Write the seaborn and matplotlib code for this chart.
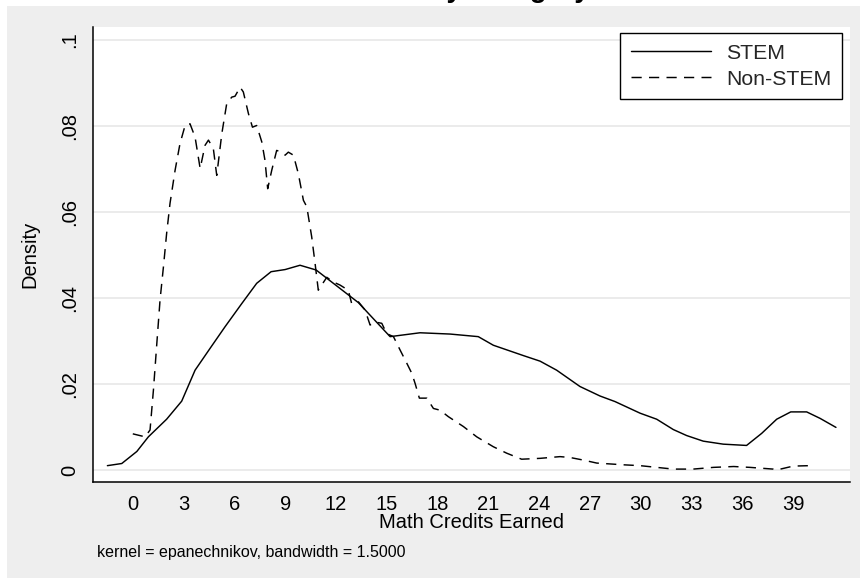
import matplotlib
matplotlib.use("Agg")
import matplotlib.pyplot as plt
from matplotlib.patches import Rectangle
import pandas as pd
import seaborn as sns

# Kernel density estimates of math credits earned, by major group
stem_x = [-1.5, -0.65, 0.24, 0.92, 2.0, 2.89, 3.68, 4.57, 5.45, 6.44,
          7.32, 8.17, 9.0, 9.88, 10.83, 13.33, 15.2, 16.97, 18.75, 20.41,
          21.3, 23.07, 24.06, 25.04, 26.42, 27.6, 28.49, 29.97, 30.95, 31.93,
          32.72, 33.7, 34.88, 36.26, 37.15, 38.04, 38.87, 39.81, 40.6, 41.54]
stem_y = [0.0010, 0.0015, 0.0043, 0.0077, 0.0118, 0.0160, 0.0232, 0.0283, 0.0333, 0.0387,
          0.0434, 0.0461, 0.0466, 0.0476, 0.0465, 0.0389, 0.0310, 0.0319, 0.0316, 0.0310,
          0.0290, 0.0266, 0.0253, 0.0232, 0.0194, 0.0172, 0.0159, 0.0132, 0.0118, 0.0094,
          0.0080, 0.0067, 0.0060, 0.0057, 0.0085, 0.0118, 0.0135, 0.0135, 0.0120, 0.0099]

nonstem_x = [0.0, 0.73, 1.02, 1.22, 1.42, 1.61, 1.81, 2.0, 2.2, 2.5,
             2.79, 3.09, 3.38, 3.68, 3.98, 4.27, 4.47, 4.76, 4.96, 5.26,
             5.55, 5.85, 6.04, 6.34, 6.53, 6.83, 7.07, 7.32, 7.62, 7.81,
             7.97, 8.21, 8.5, 8.8, 9.0, 9.19, 9.49, 9.78, 10.08, 10.28,
             10.57, 10.77, 10.96, 11.46, 11.85, 12.24, 12.73, 12.93, 13.33, 13.72,
             14.02, 14.31, 14.71, 15.0, 15.4, 15.79, 16.19, 16.48, 16.68, 16.93,
             17.37, 17.76, 18.15, 18.64, 19.53, 20.32, 21.3, 22.09, 22.97, 24.06,
             25.24, 25.83, 26.61, 27.41, 28.98, 29.97, 30.95, 31.93, 33.1, 34.3,
             35.5, 36.46, 37.84, 38.04, 39.02, 40.0]
nonstem_y = [0.0084, 0.0077, 0.0093, 0.0186, 0.0294, 0.0395, 0.0472, 0.0550, 0.0620, 0.0697,
             0.0759, 0.0801, 0.0805, 0.0774, 0.0701, 0.0755, 0.0767, 0.0747, 0.0685, 0.0782,
             0.0852, 0.0867, 0.0869, 0.0890, 0.0879, 0.0829, 0.0797, 0.0801, 0.0763, 0.0720,
             0.0654, 0.0697, 0.0743, 0.0739, 0.0732, 0.0739, 0.0732, 0.0689, 0.0627, 0.0612,
             0.0542, 0.0480, 0.0418, 0.0448, 0.0437, 0.0430, 0.0418, 0.0387, 0.0391, 0.0372,
             0.0337, 0.0344, 0.0341, 0.0317, 0.0310, 0.0279, 0.0248, 0.0225, 0.0201, 0.0167,
             0.0167, 0.0143, 0.0139, 0.0124, 0.0101, 0.0077, 0.0054, 0.0039, 0.0025, 0.0027,
             0.0031, 0.0029, 0.0023, 0.0016, 0.0012, 0.0010, 0.0006, 0.0002, 0.0002, 0.0006,
             0.0008, 0.0006, 0.0002, 0.0000, 0.0009, 0.0010]

groups = ["STEM", "Non-STEM"]
x_ticks = [0, 3, 6, 9, 12, 15, 18, 21, 24, 27, 30, 33, 36, 39]
y_ticks = [0, 0.02, 0.04, 0.06, 0.08, 0.1]
y_tick_labels = ["0", ".02", ".04", ".06", ".08", ".1"]

df = pd.concat([
    pd.DataFrame({"credits": stem_x, "density": stem_y, "group": groups[0]}),
    pd.DataFrame({"credits": nonstem_x, "density": nonstem_y, "group": groups[1]}),
], ignore_index=True)

sns.set_theme(style="white")
plt.rcParams["font.family"] = ["Liberation Sans", "DejaVu Sans"]

fig = plt.figure(figsize=(8.6, 5.78), dpi=100, facecolor="white")
# light grey graph region behind the plot region
fig.patches.append(Rectangle((7 / 860, 0), 1 - 7 / 860, 1 - 6 / 578,
                             transform=fig.transFigure, facecolor="#EEEEEE",
                             edgecolor="none", zorder=-5))
ax = fig.add_axes([93 / 860, 1 - 482 / 578, 757 / 860, 455 / 578])
ax.set_facecolor("white")

sns.lineplot(data=df, x="credits", y="density", style="group",
             style_order=groups, dashes={"STEM": "", "Non-STEM": (7, 5)},
             color="black", linewidth=1.05, sort=False, estimator=None, ax=ax)

ax.set_xlim(-2.35, 42.37)
ax.set_ylim(-0.0028, 0.1030)
ax.set_xticks(x_ticks)
ax.set_xticklabels([str(t) for t in x_ticks])
ax.set_yticks(y_ticks)
ax.set_yticklabels(y_tick_labels, rotation=90, va="center")
ax.tick_params(axis="both", length=6, width=1.0, color="black", direction="out",
               labelsize=14.5, labelcolor="black")
ax.tick_params(axis="x", pad=3)
ax.tick_params(axis="y", pad=4)

ax.set_axisbelow(True)
ax.yaxis.grid(True, color="#E8E8E8", linewidth=1.2)
ax.xaxis.grid(False)
for side in ["top", "right"]:
    ax.spines[side].set_visible(False)
for side in ["left", "bottom"]:
    ax.spines[side].set_color("black")
    ax.spines[side].set_linewidth(1.1)

ax.set_xlabel("Math Credits Earned", fontsize=14.5, color="black")
ax.set_ylabel("Density", fontsize=14.5, color="black")
ax.xaxis.set_label_coords(0.5, -0.068)
ax.yaxis.set_label_coords(-0.071, 0.5)

old = ax.get_legend()
handles = old.legend_handles
labels = [t.get_text() for t in old.get_texts()]
for h in handles:
    h.set_color("black")
    h.set_linewidth(1.05)
leg = ax.legend(handles, labels, loc="upper right", bbox_to_anchor=(0.9894, 0.9868),
                borderaxespad=0, frameon=True, fancybox=False, edgecolor="black",
                framealpha=1, facecolor="white", fontsize=15.3, handlelength=3.76,
                handletextpad=0.72, borderpad=0.5, labelspacing=0.33)
leg.get_frame().set_linewidth(1.0)

fig.text(97 / 860, 1 - 552 / 578, "kernel = epanechnikov, bandwidth = 1.5000",
         fontsize=11.5, ha="left", va="center", color="black")

# graph title sits above the top edge; only its descenders reach the figure
fig.text(422 / 860, 1 + 3 / 578, "Math Credits by Category", fontsize=20,
         fontweight="bold", ha="center", va="baseline", color="black")

fig.savefig("out.png", dpi=100, facecolor=fig.get_facecolor())
